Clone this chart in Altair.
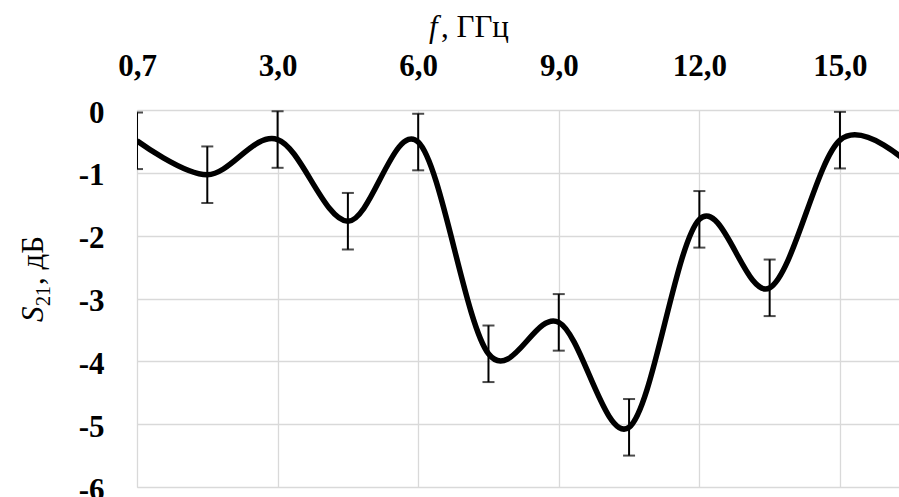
import json
import altair as alt
import pandas as pd

# ---- data ----
# position index along the category axis (one unit = one labelled interval)
x_index = [0.0, 0.5, 1.0, 1.5, 2.0, 2.5, 3.0, 3.5, 4.0, 4.5, 5.0, 5.5]
s21_db = [-0.49, -1.03, -0.47, -1.77, -0.51, -3.88, -3.38, -5.05, -1.74, -2.83, -0.48, -0.88]
err_half = [0.45, 0.45, 0.45, 0.45, 0.45, 0.45, 0.45, 0.45, 0.45, 0.45, 0.45, 0.45]
freq_labels = ["0,7", "3,0", "6,0", "9,0", "12,0", "15,0"]
y_ticks = [0, -1, -2, -3, -4, -5, -6]

x_title_italic = "f"
x_title_rest = ", ГГц"
y_title_italic = "S"
y_title_sub = "21"
y_title_rest = ", дБ"

FONT = "Liberation Serif"
LSIZE = 31

df = pd.DataFrame({"x": x_index, "y": s21_db, "e": err_half})
df["lo"] = df["y"] - df["e"]
df["hi"] = df["y"] + df["e"]
df_err = df.iloc[:11]

x_scale = alt.Scale(domain=[0, 5.42], nice=False, zero=False)
y_scale = alt.Scale(domain=[-6, 0], nice=False, zero=False)

x_axis = alt.Axis(
    orient="top", values=list(range(len(freq_labels))),
    labelExpr=json.dumps(freq_labels) + "[datum.value]",
    grid=True, domain=False, ticks=False, title=None,
    labelFont=FONT, labelFontSize=LSIZE, labelFontWeight="bold", labelColor="black",
    labelPadding=28, gridColor="#d9d9d9", gridWidth=1.3, labelFlush=False,
)
y_axis = alt.Axis(
    values=y_ticks,
    labelExpr="datum.value == 0 ? '0' : '-' + abs(datum.value)",
    grid=True, domain=False, ticks=False, title=None,
    labelFont=FONT, labelFontSize=LSIZE, labelFontWeight="bold", labelColor="black",
    labelPadding=33, gridColor="#d9d9d9", gridWidth=1.3, labelOffset=3,
)

base = alt.Chart(df)

line = base.mark_line(interpolate="cardinal", color="black", strokeWidth=5.5, clip=True).encode(
    x=alt.X("x:Q", scale=x_scale, axis=x_axis),
    y=alt.Y("y:Q", scale=y_scale, axis=y_axis),
)

err = alt.Chart(df_err)
rule = err.mark_rule(color="black", strokeWidth=2, clip=True).encode(
    x=alt.X("x:Q", scale=x_scale), y=alt.Y("lo:Q", scale=y_scale), y2="hi:Q"
)
cap_lo = err.mark_tick(orient="horizontal", color="black", size=12, thickness=2, clip=True).encode(
    x=alt.X("x:Q", scale=x_scale), y=alt.Y("lo:Q", scale=y_scale)
)
cap_hi = err.mark_tick(orient="horizontal", color="black", size=12, thickness=2, clip=True).encode(
    x=alt.X("x:Q", scale=x_scale), y=alt.Y("hi:Q", scale=y_scale)
)

one = pd.DataFrame({"k": [0]})


def txt(s, x, y, size=31, style="normal", angle=0):
    return alt.Chart(one).mark_text(
        font=FONT, fontSize=size, fontStyle=style, align="left", baseline="alphabetic",
        angle=angle, color="black",
    ).encode(x=alt.value(x), y=alt.value(y), text=alt.value(s))


titles = [
    txt(x_title_italic, 292, -73, style="italic"),
    txt(x_title_rest, 304, -73),
    txt(y_title_italic, -94, 212, style="italic", angle=270),
    txt(y_title_sub, -87, 196, size=20, angle=270),
    txt(y_title_rest, -94, 175, angle=270),
]

chart = alt.layer(rule, cap_lo, cap_hi, line, *titles).properties(
    width=762, height=377,
    padding={"left": 137, "top": 110, "right": 0, "bottom": 10},
    autosize=alt.AutoSizeParams(type="none"),
).configure_view(stroke=None).configure(background="white")

chart.save("out.html", embed_options={"renderer": "svg", "actions": False})
